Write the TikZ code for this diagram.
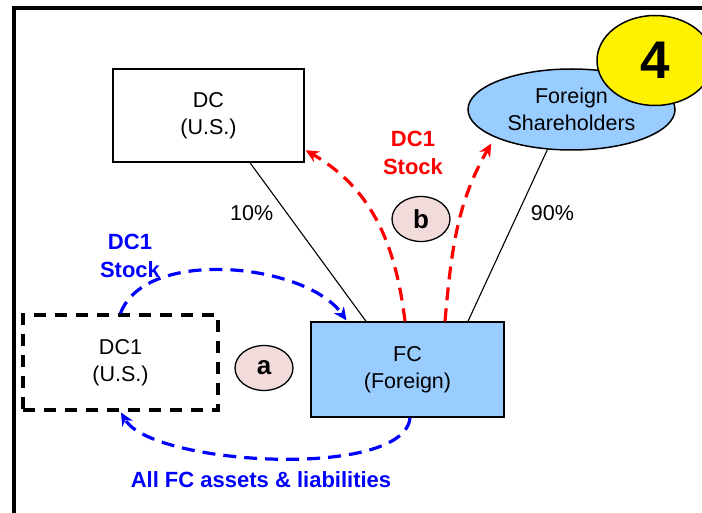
\documentclass[tikz,border=0pt]{standalone}
\usepackage{fontspec}
\setmainfont{Liberation Sans}
\usepackage{tikz}
\usetikzlibrary{arrows.meta,positioning,shapes.geometric}
\definecolor{lysbla}{RGB}{153,204,255}
\definecolor{rosa}{RGB}{242,220,219}
\tikzset{
    %Define standard arrow tip
    >={Stealth[length=13pt,width=12pt]},
    %Define style for boxes
    boks/.style={
           rectangle,
           draw=black, line width=1.5pt,
           minimum width=191pt,
           minimum height=93pt,
           align=center},
    stipletboks/.style={
           boks,
           line width=3.2pt,
           dash pattern=on 12pt off 9pt},
    %Define style for ellipses
    sky/.style={
           ellipse,
           draw=black, line width=1.5pt,
           fill=lysbla,
           inner sep=0pt,
           minimum width=207pt,
           minimum height=81pt,
           align=center},
    merke/.style={
           ellipse,
           draw=black, line width=1.3pt,
           fill=rosa,
           inner sep=0pt,
           minimum width=58pt,
           minimum height=45pt,
           font=\fontsize{26}{30}\selectfont\bfseries},
    % Define arrow style
    pil/.style={
           ->,
           line width=3.2pt,
           dash pattern=on 13pt off 8pt,
           shorten >=1pt},
    fet/.style={
           align=center,
           font=\fontsize{22}{27.5}\selectfont\bfseries}
}
\begin{document}
\begin{tikzpicture}[x=1pt,y=1pt,font=\fontsize{21.5}{27}\selectfont]
\useasboundingbox (0,0) rectangle (702,512);
\clip (0,0) rectangle (702,512);
\draw[line width=3.5pt] (14,-20) rectangle (730,504);
\node[boks](1) at (208.5,396.5){DC\\(U.S.)};
\node[boks, fill=lysbla, minimum width=193pt, minimum height=95pt](2) at (407.5,142.5){FC\\(Foreign)};
\node[stipletboks, minimum width=195pt, minimum height=95pt](3) at (120.5,149.5){DC1\\(U.S.)};
\node[sky](4) at (571.5,402.5){Foreign\\Shareholders};
\node[ellipse, draw=black, line width=1.5pt, fill=yellow, inner sep=0pt,
  minimum width=116pt, minimum height=90pt,
  font=\fontsize{53}{60}\selectfont\bfseries](5) at (655,451.5){4};
\node[merke](a) at (264,144){a};
\node[merke](b) at (421,293){b};
\node[fet, red](6) at (413,359){DC1\\Stock};
\node[fet, blue](7) at (130,256){DC1\\Stock};
\node[fet, blue](8) at (261,32){All FC assets \& liabilities};
 \path[line width=1.1pt]
    ([xshift=41.5pt]1.south) edge node[pos=0.32, left=10pt] {10\%} ([xshift=-41.5pt]2.north)
    (4.239) edge node[pos=0.37, right=9pt] {90\%} ([xshift=60.5pt]2.north);
\draw[pil, red] ([xshift=-2.5pt]2.north) to[out=97,in=-30] ([yshift=13pt]1.south east);
\draw[pil, red, shorten >=7pt] ([xshift=37.5pt]2.north) to[out=85,in=-120] (4.200);
\draw[pil, blue] (3.north) to[out=70,in=125,looseness=0.8] ([xshift=-60.5pt]2.north);
\draw[pil, blue] ([xshift=2.5pt]2.south) to[out=-95,in=-60,looseness=0.55] (3.south);
\end{tikzpicture}
\end{document}
